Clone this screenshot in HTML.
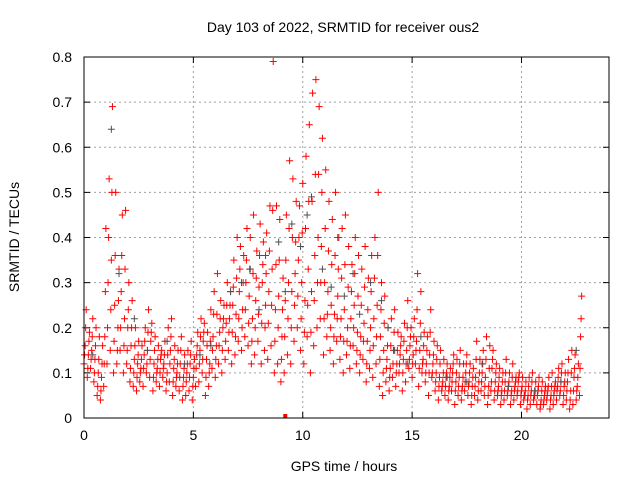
<!DOCTYPE html>
<html><head><meta charset="utf-8"><style>
html,body{margin:0;padding:0;background:#fff;}
svg{display:block;font-family:"Liberation Sans",sans-serif;}
</style></head><body>
<svg id="chart" width="640" height="480" viewBox="0 0 640 480">
<rect x="0" y="0" width="640" height="480" fill="#fff"/>
<text x="343" y="32" font-size="14" text-anchor="middle" fill="#000">Day 103 of 2022, SRMTID for receiver ous2</text>
<text x="344" y="471" font-size="14" text-anchor="middle" fill="#000">GPS time / hours</text>
<text transform="translate(19,237) rotate(-90)" font-size="14" text-anchor="middle" fill="#000">SRMTID / TECUs</text>
<g id="grid"></g>
<g id="ticks"></g>
<g id="marks"></g>
<rect x="84" y="57" width="525" height="361" fill="none" stroke="#000" stroke-width="1"/>
</svg>
<script>
const times=[0.00,0.15,0.30,0.45,0.60,0.75,0.90,1.05,1.20,1.35,1.50,1.65,1.80,1.95,2.10,2.25,2.40,2.55,2.70,2.85,3.00,3.15,3.30,3.45,3.60,3.75,3.90,4.05,4.20,4.35,4.50,4.65,4.80,4.95,5.10,5.25,5.40,5.55,5.70,5.85,6.00,6.15,6.30,6.45,6.60,6.75,6.90,7.05,7.20,7.35,7.50,7.65,7.80,7.95,8.10,8.25,8.40,8.55,8.70,8.85,9.00,9.15,9.30,9.45,9.60,9.75,9.90,10.05,10.20,10.35,10.50,10.65,10.80,10.95,11.10,11.25,11.40,11.55,11.70,11.85,12.00,12.15,12.30,12.45,12.60,12.75,12.90,13.05,13.20,13.35,13.50,13.65,13.80,13.95,14.10,14.25,14.40,14.55,14.70,14.85,15.00,15.15,15.30,15.45,15.60,15.75,15.90,16.05,16.20,16.35,16.50,16.65,16.80,16.95,17.10,17.25,17.40,17.55,17.70,17.85,18.00,18.15,18.30,18.45,18.60,18.75,18.90,19.05,19.20,19.35,19.50,19.65,19.80,19.95,20.10,20.25,20.40,20.55,20.70,20.85,21.00,21.15,21.30,21.45,21.60,21.75,21.90,22.05,22.20,22.35,22.50,22.65];
const lowVals=[.12,.09,.11,.08,.05,.04,.07,.12,.15,.10,.12,.15,.10,.12,.08,.07,.06,.08,.07,.10,.09,.06,.08,.07,.09,.06,.08,.05,.07,.06,.04,.05,.06,.04,.07,.08,.10,.05,.07,.11,.09,.12,.10,.13,.15,.12,.14,.17,.15,.18,.16,.12,.14,.17,.12,.15,.13,.16,.10,.12,.08,.10,.14,.12,.17,.20,.15,.12,.18,.10,.16,.20,.22,.14,.18,.15,.12,.17,.13,.10,.14,.11,.16,.12,.10,.13,.08,.11,.09,.12,.07,.05,.08,.06,.09,.07,.10,.06,.08,.11,.09,.12,.07,.10,.08,.05,.09,.06,.04,.06,.05,.04,.06,.03,.05,.04,.06,.05,.03,.05,.04,.06,.05,.03,.06,.04,.05,.03,.04,.05,.03,.04,.05,.03,.04,.02,.03,.04,.03,.02,.03,.04,.02,.03,.04,.05,.03,.04,.02,.03,.04,.05];
const lowMidVals=[.14,.11,.13,.10,.07,.06,.12,.20,.24,.17,.15,.20,.16,.15,.11,.10,.09,.10,.11,.12,.13,.09,.10,.10,.11,.08,.12,.08,.09,.09,.07,.08,.09,.07,.11,.12,.13,.09,.10,.15,.13,.16,.15,.17,.19,.19,.18,.22,.20,.24,.21,.17,.20,.23,.21,.20,.21,.25,.17,.20,.13,.18,.22,.20,.25,.27,.22,.19,.25,.19,.26,.30,.30,.22,.23,.20,.18,.22,.18,.17,.17,.16,.20,.15,.14,.17,.12,.15,.16,.18,.13,.10,.11,.09,.12,.10,.12,.10,.12,.13,.12,.15,.11,.12,.10,.10,.10,.08,.07,.07,.07,.06,.08,.06,.07,.06,.08,.07,.05,.07,.06,.08,.07,.05,.08,.06,.06,.05,.06,.06,.05,.06,.06,.05,.05,.04,.05,.05,.05,.03,.04,.05,.04,.05,.06,.06,.05,.06,.04,.06,.06,.11];
const midVals=[.16,.14,.15,.13,.10,.09,.18,.30,.35,.25,.20,.28,.22,.20,.16,.13,.12,.11,.14,.15,.17,.12,.11,.13,.12,.10,.15,.11,.10,.12,.09,.10,.12,.09,.14,.15,.17,.13,.12,.18,.16,.19,.20,.21,.22,.25,.23,.28,.24,.30,.27,.22,.26,.29,.30,.25,.28,.33,.24,.27,.18,.26,.30,.28,.32,.35,.30,.26,.33,.28,.36,.40,.38,.30,.28,.25,.23,.27,.22,.24,.20,.22,.25,.19,.18,.21,.17,.20,.22,.25,.18,.15,.13,.11,.15,.12,.14,.13,.15,.16,.14,.17,.15,.13,.12,.14,.12,.10,.09,.08,.09,.07,.10,.08,.09,.07,.10,.08,.07,.09,.08,.10,.09,.07,.11,.08,.07,.06,.08,.07,.06,.07,.08,.06,.05,.05,.06,.05,.06,.04,.05,.06,.05,.06,.07,.08,.07,.08,.06,.09,.07,.18];
const midHighVals=[.20,.17,.18,.16,.13,.12,.28,.40,.50,.36,.26,.36,.33,.24,.20,.16,.14,.13,.17,.19,.19,.15,.13,.14,.14,.14,.18,.13,.12,.15,.11,.12,.14,.11,.16,.18,.19,.16,.17,.23,.23,.22,.22,.25,.25,.29,.31,.33,.30,.35,.33,.32,.31,.36,.34,.32,.37,.46,.34,.35,.24,.35,.42,.40,.39,.40,.41,.42,.48,.48,.54,.54,.50,.42,.37,.34,.36,.33,.31,.34,.29,.28,.32,.27,.25,.29,.24,.28,.31,.36,.24,.21,.16,.16,.19,.15,.16,.17,.20,.18,.18,.24,.21,.16,.15,.19,.14,.13,.12,.10,.10,.09,.12,.10,.12,.09,.12,.10,.09,.13,.10,.12,.13,.11,.13,.10,.09,.08,.10,.08,.09,.08,.09,.07,.06,.07,.08,.06,.07,.06,.06,.07,.07,.07,.09,.10,.08,.10,.10,.11,.09,.22];
const highVals=[.24,.19,.22,.20,.18,.16,.42,.53,.69,.50,.33,.45,.46,.30,.26,.20,.17,.16,.20,.24,.21,.18,.16,.15,.17,.20,.22,.16,.15,.18,.14,.15,.17,.13,.19,.22,.21,.19,.24,.28,.32,.26,.25,.30,.28,.35,.40,.38,.36,.42,.40,.45,.37,.43,.39,.41,.47,.79,.47,.44,.31,.45,.57,.53,.48,.47,.52,.58,.65,.72,.75,.69,.62,.55,.48,.44,.50,.40,.42,.45,.38,.34,.40,.36,.33,.38,.31,.36,.40,.50,.30,.27,.20,.22,.24,.19,.18,.21,.26,.20,.22,.32,.28,.19,.18,.24,.17,.16,.15,.13,.12,.11,.14,.13,.15,.12,.14,.12,.11,.17,.13,.15,.18,.16,.15,.12,.11,.10,.13,.10,.12,.09,.10,.09,.08,.09,.10,.08,.09,.08,.07,.09,.10,.08,.11,.12,.10,.13,.15,.14,.12,.27];
const grayTimes=[0.4,1.25,1.6,2.3,2.9,3.8,4.6,5.3,5.8,6.7,7.2,7.6,8.0,8.3,8.9,9.2,9.5,9.9,10.2,10.4,10.9,11.3,11.6,11.9,12.3,12.6,13.1,13.6,13.9,14.2,14.8,15.4,16.6,17.5,18.2,19.4,20.6,21.8,22.5];
const grayVals=[.14,.64,.32,.22,.15,.17,.12,.14,.16,.28,.30,.33,.24,.36,.39,.28,.43,.38,.45,.49,.33,.29,.40,.27,.32,.23,.30,.26,.20,.15,.12,.18,.09,.08,.12,.07,.06,.08,.15];
const xTicks=[0,5,10,15,20];
const yTicks=[0,0.1,0.2,0.3,0.4,0.5,0.6,0.7,0.8];
const yTickLabels=["0","0.1","0.2","0.3","0.4","0.5","0.6","0.7","0.8"];

const X0=84,X1=609,Y0=418,Y1=57,XMAX=24,YMAX=0.8;
function xs(v){return X0+(v/XMAX)*(X1-X0);}
function ys(v){return Y0-(v/YMAX)*(Y0-Y1);}
const NS="http://www.w3.org/2000/svg";
const grid=document.getElementById('grid'),ticks=document.getElementById('ticks'),marks=document.getElementById('marks');
function mk(tag,attrs,parent){const e=document.createElementNS(NS,tag);for(const k in attrs)e.setAttribute(k,attrs[k]);parent.appendChild(e);return e;}
xTicks.forEach(t=>{
  const x=xs(t);
  if(t>0){const g=mk('line',{x1:x,y1:Y0,x2:x,y2:Y1,stroke:'#a0a0a0','stroke-dasharray':'2,3'},grid);
  
  }
  mk('line',{x1:x,y1:Y0,x2:x,y2:Y0-6,stroke:'#000'},ticks);
  mk('line',{x1:x,y1:Y1,x2:x,y2:Y1+6,stroke:'#000'},ticks);
  const l=mk('text',{x:x,y:Y0+22,'font-size':14,'text-anchor':'middle',fill:'#000'},ticks);
  l.textContent=String(t);
  
  
});
yTicks.forEach((t,i)=>{
  const y=ys(t);
  if(i>0&&i<yTicks.length-1){const g=mk('line',{x1:X0,y1:y,x2:X1,y2:y,stroke:'#a0a0a0','stroke-dasharray':'2,3'},grid);
  
  }
  mk('line',{x1:X0,y1:y,x2:X0+6,y2:y,stroke:'#000'},ticks);
  mk('line',{x1:X1,y1:y,x2:X1-6,y2:y,stroke:'#000'},ticks);
  const l=mk('text',{x:X0-12,y:y+5,'font-size':14,'text-anchor':'end',fill:'#000'},ticks);
  l.textContent=yTickLabels[i];
  
  
});
function plus(t,v,color,name){
  if(v===undefined||t===undefined)return;
  const x=xs(t),y=ys(v);
  const p=mk('path',{d:`M${x-3.5} ${y}H${x+3.5}M${x} ${y-3.5}V${y+3.5}`,stroke:color,'stroke-width':1,fill:'none'},marks);
  
  
}
times.forEach((t,i)=>{
  plus(t,lowVals[i],'#ff0000','srmtid-point');
  plus(t+0.025,lowMidVals[i],'#ff0000','srmtid-point');
  plus(t+0.05,midVals[i],'#ff0000','srmtid-point');
  plus(t+0.075,midHighVals[i],'#ff0000','srmtid-point');
  plus(t+0.1,highVals[i],'#ff0000','srmtid-point');
});
grayTimes.forEach((t,i)=>plus(t,grayVals[i],'#505050','srmtid-point-alt'));
const sq=mk('rect',{x:xs(9.2)-2,y:Y0-4,width:4,height:4,fill:'#ff0000'},marks);


</script>
</body></html>
